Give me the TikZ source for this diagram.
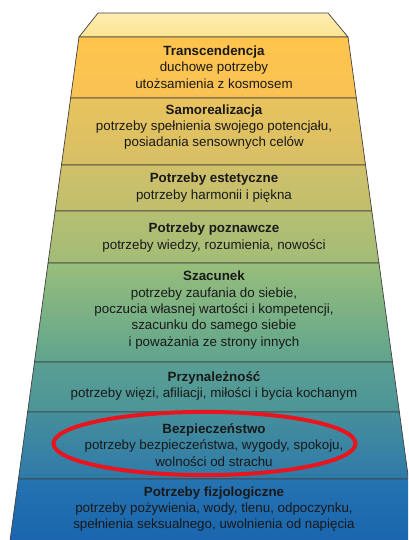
\documentclass[tikz,border=0pt]{standalone}
\usepackage{fontspec}
\setmainfont{Liberation Sans}
\usepackage{xcolor}
\usetikzlibrary{shapes.geometric}

\definecolor{capa}{HTML}{FDEDB0}
\definecolor{capb}{HTML}{FBE391}
\definecolor{c1t}{HTML}{FFC44C}
\definecolor{c1b}{HTML}{F8C253}
\definecolor{c2t}{HTML}{E9C35E}
\definecolor{c2b}{HTML}{D6BF66}
\definecolor{c3t}{HTML}{D0C06A}
\definecolor{c3b}{HTML}{C0BE6E}
\definecolor{c4t}{HTML}{B5BF72}
\definecolor{c4b}{HTML}{A3BC77}
\definecolor{c5t}{HTML}{98BE7A}
\definecolor{c5b}{HTML}{5EA48F}
\definecolor{c6t}{HTML}{5A9E93}
\definecolor{c6b}{HTML}{4C9598}
\definecolor{c7t}{HTML}{468F9C}
\definecolor{c7b}{HTML}{2E7AA9}
\definecolor{c8t}{HTML}{2673B1}
\definecolor{c8b}{HTML}{1863AE}
\definecolor{ringred}{HTML}{E8151E}

\tikzset{
  layer/.style 2 args={draw=black!75, line width=0.5pt, top color=#1, bottom color=#2},
  needtext/.style={align=center, font=\fontsize{9.5}{11.7}\selectfont, text=black!90, inner sep=0pt}
}

\begin{document}
\begin{tikzpicture}[x=0.25mm, y=-0.25mm]
  \useasboundingbox (0,0) rectangle (408,540);
  \clip (0,0) rectangle (408,540);
  % top face
  \path[layer={capa}{capb}] (98,13) -- (328,13) -- (348,37) -- (79,37) -- cycle;
  % bands
  \foreach \ya/\yb/\ct/\cb in {37/98/c1t/c1b, 98/165/c2t/c2b, 165/211/c3t/c3b,
      211/263/c4t/c4b, 263/362/c5t/c5b, 362/412/c6t/c6b, 412/479/c7t/c7b, 479/550/c8t/c8b}
    \path[layer={\ct}{\cb}] ({79-0.137*(\ya-37)},\ya) -- ({348+0.137*(\ya-37)},\ya)
      -- ({348+0.137*(\yb-37)},\yb) -- ({79-0.137*(\yb-37)},\yb) -- cycle;

  \node[needtext] (transc) at (214,67) {\textbf{Transcendencja}\\duchowe potrzeby\\utożsamienia z kosmosem};
  \node[needtext] (samoreal) at (214,127) {\textbf{Samorealizacja}\\potrzeby spełnienia swojego potencjału,\\posiadania sensownych celów};
  \node[needtext] (estet) at (214,187.5) {\textbf{Potrzeby estetyczne}\\potrzeby harmonii i piękna};
  \node[needtext] (pozn) at (214,237.5) {\textbf{Potrzeby poznawcze}\\potrzeby wiedzy, rozumienia, nowości};
  \node[needtext] (szac) at (214,310) {\textbf{Szacunek}\\potrzeby zaufania do siebie,\\poczucia własnej wartości i kompetencji,\\szacunku do samego siebie\\i poważania ze strony innych};
  \node[needtext] (przyn) at (214,386) {\textbf{Przynależność}\\potrzeby więzi, afiliacji, miłości i bycia kochanym};
  \node[needtext] (bezp) at (214,445) {\textbf{Bezpieczeństwo}\\potrzeby bezpieczeństwa, wygody, spokoju,\\wolności od strachu};
  \node[needtext] (fizjo) at (214,509) {\textbf{Potrzeby fizjologiczne}\\potrzeby pożywienia, wody, tlenu, odpoczynku,\\spełnienia seksualnego, uwolnienia od napięcia};

  % red ring round Bezpieczenstwo
  \node[ellipse, draw=ringred, line width=1mm, minimum width=75.5mm, minimum height=15.8mm] (ring) at (204.5,443.5) {};
\end{tikzpicture}
\end{document}
